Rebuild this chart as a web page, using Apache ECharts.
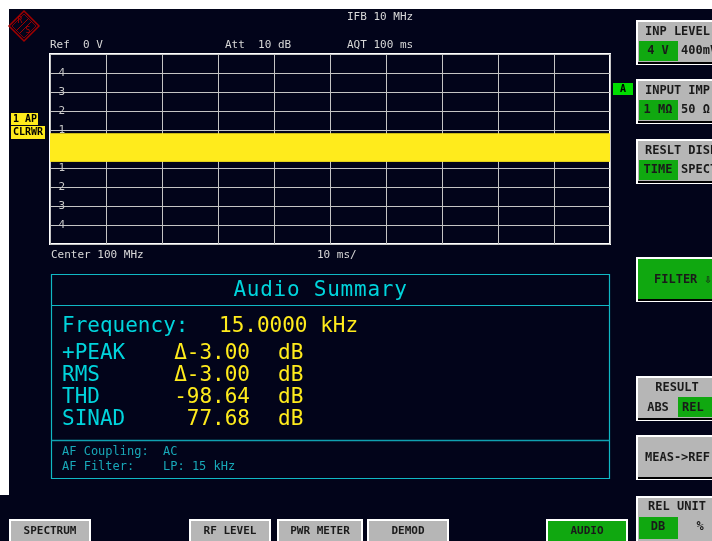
<!DOCTYPE html>
<html>
<head>
<meta charset="utf-8">
<script src="https://cdn.jsdelivr.net/npm/echarts@6/dist/echarts.min.js"></script>
<style>
html,body{margin:0;padding:0;background:#fff;}
#c{width:712px;height:541px;}
</style>
</head>
<body>
<div id="c"></div>
<script>
// ---- data ----
const timeMs = [0, 100];              // sweep time axis (10 ms/div)
const tracePeak = [0.8, 0.8];         // upper envelope of the 15 kHz trace (V)
const traceTrough = [-0.65, -0.65];   // lower envelope of the trace (V)
const yTicks = [-4, -3, -2, -1, 1, 2, 3, 4];
const summaryLabels = ['+PEAK', 'RMS', 'THD', 'SINAD'];
const summaryValues = ['\u0394-3.00', '\u0394-3.00', '-98.64', '77.68'];
const summaryUnits = ['dB', 'dB', 'dB', 'dB'];
const frequencyText = '15.0000 kHz';
const bottomKeys = ['SPECTRUM', 'RF LEVEL', 'PWR METER', 'DEMOD', 'AUDIO'];

// ---- styles ----
const BG = '#02041a';
const YEL = '#ffeb1c';
const CYAN = '#00d4dc';
const MONO = 'DejaVu Sans Mono, Liberation Mono, monospace';
const GREY = '#b6b6b6';
const GREEN = '#10a810';
const KEYTXT = '#1a1a1a';

const chart = echarts.init(document.getElementById('c'), null, {renderer: 'canvas'});
const g = [];

// backgrounds
g.push({type:'rect', shape:{x:0,y:0,width:712,height:541}, style:{fill:BG}, z:-10, silent:true});
g.push({type:'rect', shape:{x:0,y:0,width:712,height:9}, style:{fill:'#fff'}, z:-9});
g.push({type:'rect', shape:{x:0,y:0,width:9,height:495}, style:{fill:'#fff'}, z:-9});

function txt(x, y, text, fill, font, align, z) {
  g.push({type:'text', x:x, y:y, z:z||5, style:{text:text, fill:fill, font:font, textAlign:align||'left', textVerticalAlign:'middle'}});
}

// logo
g.push({type:'polygon', shape:{points:[[24,11],[39,26],[24,41],[9,26]]}, style:{fill:'none', stroke:'#a00000', lineWidth:1.5}});
g.push({type:'polygon', shape:{points:[[24,14],[36,26],[24,38],[12,26]]}, style:{fill:'none', stroke:'#a00000', lineWidth:0.8}});
g.push({type:'line', shape:{x1:16,y1:31,x2:29,y2:18}, style:{stroke:'#a00000', lineWidth:1}});
g.push({type:'line', shape:{x1:19,y1:34,x2:32,y2:21}, style:{stroke:'#a00000', lineWidth:1}});
txt(20, 21, 'R', '#b00000', '8px ' + MONO, 'center');
txt(28, 31, 'S', '#b00000', '8px ' + MONO, 'center');

// header texts
const small = '11px ' + MONO;
const stxt = '#d8d8d8';
txt(347, 17, 'IFB 10 MHz', stxt, small);
txt(50, 45, 'Ref  0 V', stxt, small);
txt(225, 45, 'Att  10 dB', stxt, small);
txt(347, 45, 'AQT 100 ms', stxt, small);
txt(51, 255, 'Center 100 MHz', stxt, small);
txt(317, 255, '10 ms/', stxt, small);

// trace labels
g.push({type:'rect', shape:{x:11,y:113,width:27,height:12}, style:{fill:YEL}});
txt(13, 119.5, '1 AP', '#000', 'bold 10px ' + MONO);
g.push({type:'rect', shape:{x:11,y:126,width:34,height:13}, style:{fill:YEL}});
txt(13, 132.5, 'CLRWR', '#000', 'bold 10px ' + MONO);
g.push({type:'rect', shape:{x:613,y:83,width:20,height:12}, style:{fill:'#00dd00'}});
txt(623, 89, 'A', '#000', 'bold 10px ' + MONO, 'center');

// audio summary box
g.push({type:'rect', shape:{x:51.5,y:274.5,width:558,height:204}, style:{fill:'none', stroke:'#10b8c4', lineWidth:1.2}});
g.push({type:'line', shape:{x1:51.5,y1:305.5,x2:609.5,y2:305.5}, style:{stroke:'#10b8c4', lineWidth:1.2}});
g.push({type:'line', shape:{x1:51.5,y1:440.5,x2:609.5,y2:440.5}, style:{stroke:'#10a0b0', lineWidth:1.5}});
const big = '21px ' + MONO;
const titleChars = 'Audio Summary'.split('');
titleChars.forEach((ch, i) => {
  txt(233 + i * 13.4 + 6.7, 291, ch, CYAN, big, 'center');
});
txt(62, 327, 'Frequency:', CYAN, big);
txt(219, 327, frequencyText, YEL, big);
const rowY = [354, 376, 398, 420];
summaryLabels.forEach((l, i) => {
  txt(62, rowY[i], l, CYAN, big);
  txt(250, rowY[i], summaryValues[i], YEL, big, 'right');
  txt(278, rowY[i], summaryUnits[i], YEL, big);
});
const af = '12px ' + MONO;
txt(62, 452, 'AF Coupling:', '#18a8b8', af);
txt(163, 452, 'AC', '#18a8b8', af);
txt(62, 467, 'AF Filter:', '#18a8b8', af);
txt(163, 467, 'LP: 15 kHz', '#18a8b8', af);

// softkey helpers
const keyFont = 'bold 12px ' + MONO;
function softkey(x, y, w, h, fill) {
  g.push({type:'rect', shape:{x:x,y:y,width:w,height:h}, style:{fill:fill, stroke:'#ffffff', lineWidth:2}});
  g.push({type:'line', shape:{x1:x+1,y1:y+h-1,x2:x+w,y2:y+h-1}, style:{stroke:'#000', lineWidth:2}});
}
function toggleKey(y, title, left, right, greenLeft) {
  softkey(637, y, 80, 43, GREY);
  txt(645, y + 11, title, KEYTXT, keyFont);
  if (greenLeft) {
    g.push({type:'rect', shape:{x:639,y:y+20,width:39,height:20}, style:{fill:GREEN}});
  } else {
    g.push({type:'rect', shape:{x:678,y:y+20,width:36,height:20}, style:{fill:GREEN}});
  }
  txt(658, y + 30, left, KEYTXT, keyFont, 'center');
  txt(681, y + 30, right, KEYTXT, keyFont);
}
toggleKey(21, 'INP LEVEL', '4 V', '400mV', true);
toggleKey(80, 'INPUT IMP', '1 M\u03A9', '50 \u03A9', true);
toggleKey(140, 'RESLT DISP', 'TIME', 'SPECT', true);
softkey(637, 258, 80, 43, GREEN);
txt(654, 280, 'FILTER \u21E9', KEYTXT, keyFont);
// RESULT
softkey(637, 377, 80, 43, GREY);
txt(677, 388, 'RESULT', KEYTXT, keyFont, 'center');
g.push({type:'rect', shape:{x:678,y:397,width:36,height:20}, style:{fill:GREEN}});
txt(658, 408, 'ABS', KEYTXT, keyFont, 'center');
txt(682, 408, 'REL', KEYTXT, keyFont);
softkey(637, 436, 80, 43, GREY);
txt(645, 458, 'MEAS->REF', KEYTXT, keyFont);
// REL UNIT
softkey(637, 497, 80, 46, GREY);
txt(677, 507, 'REL UNIT', KEYTXT, keyFont, 'center');
g.push({type:'rect', shape:{x:639,y:517,width:39,height:22}, style:{fill:GREEN}});
txt(658, 527, 'DB', KEYTXT, keyFont, 'center');
txt(700, 527, '%', KEYTXT, keyFont, 'center');

// bottom keys
const bx = [[10, 80], [190, 80], [278, 84], [368, 80], [547, 80]];
bottomKeys.forEach((k, i) => {
  softkey(bx[i][0], 520, bx[i][1], 24, k === 'AUDIO' ? GREEN : GREY);
  txt(bx[i][0] + bx[i][1] / 2, 531, k, KEYTXT, 'bold 11px ' + MONO, 'center');
});

const option = {
  backgroundColor: BG,
  animation: false,
  grid: {left: 50, top: 54, width: 560, height: 190, show: true, borderColor: '#ffffff', borderWidth: 2, containLabel: false},
  xAxis: {
    type: 'value', min: timeMs[0], max: timeMs[timeMs.length - 1], interval: 10,
    axisLabel: {show: false}, axisLine: {show: false}, axisTick: {show: false},
    splitLine: {show: true, lineStyle: {color: '#c4c4c4', width: 1}}
  },
  yAxis: {
    type: 'value', min: -5, max: 5, interval: 1,
    axisLine: {show: false}, axisTick: {show: false},
    splitLine: {show: true, lineStyle: {color: '#c4c4c4', width: 1}},
    axisLabel: {
      inside: true, margin: 2, color: '#c8c8c8', fontFamily: MONO, fontSize: 11,
      formatter: v => yTicks.indexOf(v) < 0 ? '' : (v > 0 ? ' ' + v : '\u2013' + Math.abs(v))
    }
  },
  series: [
    {type: 'line', data: timeMs.map((t, i) => [t, tracePeak[i]]), showSymbol: false,
     lineStyle: {color: YEL, width: 1}, areaStyle: {color: YEL, opacity: 1}, z: 3},
    {type: 'line', data: timeMs.map((t, i) => [t, traceTrough[i]]), showSymbol: false,
     lineStyle: {color: YEL, width: 1}, areaStyle: {color: YEL, opacity: 1}, z: 3}
  ],
  graphic: g
};
chart.setOption(option);
</script>
</body>
</html>
